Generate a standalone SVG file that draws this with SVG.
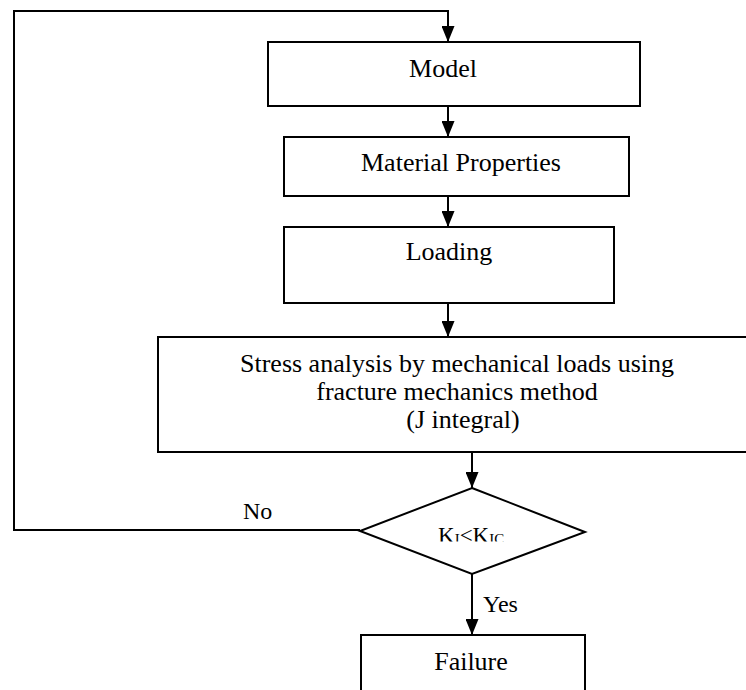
<svg xmlns="http://www.w3.org/2000/svg" width="746" height="690" viewBox="0 0 746 690">
<style>
.box{fill:#fff;stroke:#000;stroke-width:2}
.ln{fill:none;stroke:#000;stroke-width:2}
text{font-family:"Liberation Serif","Times New Roman",serif;fill:#000}
.t{font-size:26px;text-anchor:middle}
.lb{font-size:24px}
</style>
<defs>
<marker id="ah" markerUnits="userSpaceOnUse" markerWidth="16" markerHeight="13" refX="16" refY="6.5" orient="auto">
<path d="M0,0 L16,6.5 L0,13 z" fill="#000"/>
</marker>
<clipPath id="kclip"><rect x="380" y="500" width="190" height="41.5"/></clipPath>
</defs>
<rect width="746" height="690" fill="#fff"/>
<g id="model">
<rect class="box" x="268" y="42" width="372" height="64"/>
<text class="t" x="443" y="77">Model</text>
</g>
<g id="material">
<rect class="box" x="284" y="137" width="345" height="59"/>
<text class="t" x="461" y="171">Material Properties</text>
</g>
<g id="loading">
<rect class="box" x="284" y="227" width="330" height="76"/>
<text class="t" x="449" y="260">Loading</text>
</g>
<g id="stress">
<rect class="box" x="158" y="337" width="600" height="115"/>
<text class="t" x="457" y="372">Stress analysis by mechanical loads using</text>
<text class="t" x="457" y="400">fracture mechanics method</text>
<text class="t" x="463" y="428">(J integral)</text>
</g>
<g id="decision">
<polygon class="box" points="472,488 585,532 472,574 360,531"/>
<g clip-path="url(#kclip)">
<text x="438" y="543" font-size="23">K<tspan font-size="15" dy="1">I</tspan><tspan dy="-1">&lt;K</tspan><tspan font-size="15" dy="1">IC</tspan></text>
</g>
</g>
<g id="failure">
<rect class="box" x="361" y="635" width="224" height="70"/>
<text class="t" x="471" y="670">Failure</text>
</g>
<g id="connectors">
<path class="ln" d="M360,530 H14 V11 H448 V42" marker-end="url(#ah)"/>
<path class="ln" d="M448,106 V137" marker-end="url(#ah)"/>
<path class="ln" d="M448,196 V227" marker-end="url(#ah)"/>
<path class="ln" d="M448,303 V337" marker-end="url(#ah)"/>
<path class="ln" d="M472,452 V488" marker-end="url(#ah)"/>
<path class="ln" d="M472,574 V635" marker-end="url(#ah)"/>
<text class="lb" x="243" y="519">No</text>
<text class="lb" x="483" y="612">Yes</text>
</g>
</svg>
